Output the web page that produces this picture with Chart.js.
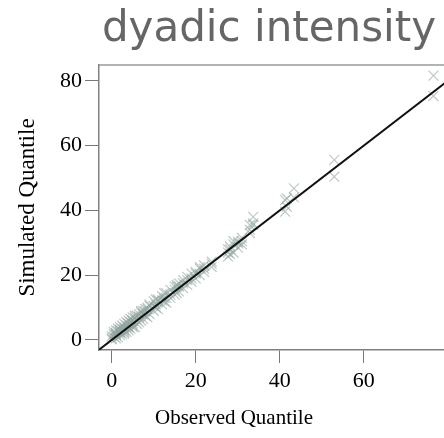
<!DOCTYPE html>
<html>
<head>
<meta charset="utf-8">
<script src="https://cdn.jsdelivr.net/npm/chart.js@4.4.1/dist/chart.umd.min.js"></script>
<style>
  html, body { margin: 0; padding: 0; background: #fff; overflow: hidden; }
  #chartContainer { width: 444px; height: 438px; overflow: hidden; }
</style>
</head>
<body>
<div id="chartContainer">
  <canvas id="chart" width="444" height="438"></canvas>
</div>
<script>
const chartTitle = 'dyadic intensity'
const xLabel = 'Observed Quantile'
const yLabel = 'Simulated Quantile'

// observed quantiles and simulated quantile sets
const observed = [0, 0.5, 1, 1, 1.5, 2, 2, 2.5, 3, 3, 3.5, 4, 4, 4.5, 5, 5, 5.5, 6, 6.5, 7,
  7.5, 8, 8.5, 9, 10, 10.5, 11, 12, 12.5, 13, 14, 15, 15.5, 16, 17, 18, 19, 20, 21, 22,
  23.8, 27.7, 28.2, 29, 30.1, 31, 32.9, 33.7, 41.3, 41.7, 43.4, 53, 76.6]
const simulated1 = [1.2, 2.5, 0.5, 3, 2.8, 1.5, 4, 3.5, 2, 5, 4.5, 3, 6, 5.5, 4, 7, 6.8, 5, 8, 6,
  9, 7.5, 10, 8, 12, 11, 9.5, 13.5, 13, 11.5, 15.5, 14, 17, 15, 18.5, 17, 20.5, 19, 22.5, 21,
  24.2, 25.7, 28.8, 27, 30.3, 29.5, 34, 38, 39.6, 41.1, 46.8, 55.6, 81.6]
const simulated2 = [0.2, 1, 2, 1.5, 0.8, 3, 2.5, 1.8, 4, 3.5, 2.5, 5, 3.8, 3.5, 6, 4.5, 4, 7.5, 5.5, 8.5,
  6.5, 9.5, 7, 10.5, 9, 12.5, 12.5, 11, 14.5, 13, 13, 16.5, 14.5, 17.5, 16, 19.5, 18, 21, 20, 23,
  22.5, 27, 26.5, 30.5, 28.5, 31.5, 35.5, 36, 43.2, 43.7, 44, 50.4, 75.3]
const simulated3 = [0.5, 1.8, 1.5, 2.2, 3.5, 2.2, 3.2, 4.5, 3, 2.5, 5.5, 4.2, 5, 6.5, 5.2, 6, 7.5, 6.2, 7.2, 9,
  8, 8.8, 9.5, 11, 10.5, 10, 12, 12.2, 12, 14.5, 14, 15.5, 16.5, 16.5, 17.5, 18.5, 19, 20.5, 22, 22,
  23.5, 28, 28, 29.5, 29.8, 30.5, 33, 35.5, null, null, null, null, null]

const xTicks = [0, 20, 40, 60]
const yTicks = [0, 20, 40, 60, 80]
const xRange = [-3.02, 79.12]
const yRange = [-3.09, 84.88]
const diagonal = [-5, 90]   // y = x reference line ends

const serif = '"Liberation Serif", "Times New Roman", serif'
const markColor = 'rgba(145, 165, 160, 0.6)'

function pairs(xs, ys) {
  return xs.map((x, i) => ({ x: x, y: ys[i] }))
}

function simSet(label, ys) {
  return {
    type: 'scatter',
    label: label,
    data: pairs(observed, ys),
    pointStyle: 'crossRot',
    pointRadius: 7,
    borderColor: markColor,
    borderWidth: 1.2,
    order: 1
  }
}

const chartData = {
  datasets: [
    {
      type: 'line',
      label: 'y = x',
      data: diagonal.map(v => ({ x: v, y: v })),
      borderColor: '#111',
      borderWidth: 2,
      pointRadius: 0,
      fill: false,
      order: 0
    },
    simSet('sim 1', simulated1),
    simSet('sim 2', simulated2),
    simSet('sim 3', simulated3)
  ]
}

// titles and the top frame line
const decorations = {
  id: 'decorations',
  afterDraw(chart) {
    const ctx = chart.ctx
    const area = chart.chartArea
    ctx.save()
    ctx.strokeStyle = '#999'
    ctx.lineWidth = 1.5
    ctx.beginPath()
    ctx.moveTo(area.left, area.top)
    ctx.lineTo(area.right, area.top)
    ctx.stroke()

    ctx.fillStyle = '#666'
    ctx.font = '42px "DejaVu Sans"'
    ctx.textAlign = 'center'
    ctx.textBaseline = 'alphabetic'
    ctx.fillText(chartTitle, 269, 41)

    ctx.fillStyle = '#000'
    ctx.font = '21px ' + serif
    ctx.fillText(xLabel, 234, 424)
    ctx.restore()
  }
}

const options = {
  responsive: false,
  animation: false,
  layout: { autoPadding: false, padding: { top: 65, left: 0, right: 0, bottom: 0 } },
  plugins: {
    legend: { display: false },
    title: { display: false },
    tooltip: { enabled: false }
  },
  scales: {
    x: {
      type: 'linear',
      min: xRange[0],
      max: xRange[1],
      afterFit: s => { s.height = 88 },
      afterBuildTicks: s => { s.ticks = xTicks.map(v => ({ value: v })) },
      grid: { drawOnChartArea: false, drawTicks: true, tickLength: 13, color: '#777' },
      border: { display: true, color: '#808080', width: 1.5 },
      ticks: { padding: 5, color: '#000', font: { family: serif, size: 22 } }
    },
    y: {
      type: 'linear',
      min: yRange[0],
      max: yRange[1],
      afterFit: s => { s.width = 99 },
      afterBuildTicks: s => { s.ticks = yTicks.map(v => ({ value: v })) },
      grid: { drawOnChartArea: false, drawTicks: true, tickLength: 14, color: '#777' },
      border: { display: true, color: '#808080', width: 1.5 },
      ticks: { padding: 3, color: '#000', font: { family: serif, size: 22 } },
      title: {
        display: true,
        text: yLabel,
        color: '#000',
        padding: { top: 14, bottom: 0 },
        font: { family: serif, size: 23 }
      }
    }
  }
}

new Chart(document.getElementById('chart').getContext('2d'), {
  type: 'scatter',
  data: chartData,
  options: options,
  plugins: [decorations]
})
</script>
</body>
</html>
